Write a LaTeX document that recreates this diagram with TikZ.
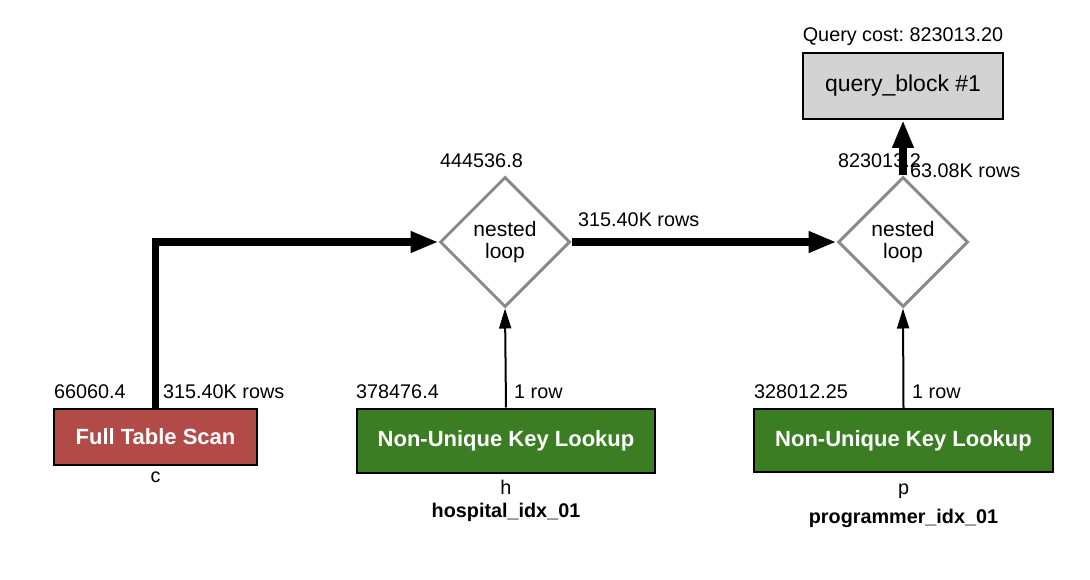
\documentclass[tikz,border=0pt]{standalone}
\usepackage{fontspec}
\setmainfont{Liberation Sans}
\frenchspacing
\usetikzlibrary{shapes.geometric,arrows.meta}
\definecolor{ftsred}{HTML}{B24A47}
\definecolor{nkgreen}{HTML}{3A7D22}
\definecolor{qbgray}{HTML}{D3D3D3}
\definecolor{dgray}{HTML}{8A8A8A}
\tikzset{
  lbl/.style={inner sep=0pt, font=\fontsize{19.8}{23}\selectfont},
  blbl/.style={inner sep=0pt, font=\fontsize{19.8}{23}\selectfont\bfseries},
  opbox/.style={draw=black, line width=2pt, inner sep=0pt, text=white, font=\fontsize{22}{26}\selectfont\bfseries},
  nloop/.style={diamond, aspect=1, draw=dgray, line width=3pt, fill=white, inner sep=0pt,
    minimum width=130pt, minimum height=130pt, align=center, font=\fontsize{21}{22}\selectfont},
  thickarr/.style={line width=7.5pt, -{Triangle[length=28pt,width=20pt]}},
  thinarr/.style={line width=2pt, -{Triangle[length=20pt,width=12pt]}}
}
\begin{document}
\begin{tikzpicture}[x=1pt,y=-1pt]
\useasboundingbox[fill=white] (0,0) rectangle (1090,580);

% query block
\node[draw=black, line width=2pt, fill=qbgray, minimum width=200pt, minimum height=66pt, inner sep=0pt,
  font=\fontsize{23}{27}\selectfont] (qb) at (903,86) {query\_block \#1};
\node[lbl, anchor=base] (qcost) at (903,42) {Query cost: 823013.20};

% nested loops
\node[nloop] (nl1) at (505,242) {nested\\loop};
\node[nloop] (nl2) at (903,242) {nested\\loop};
\node[lbl, anchor=base west] (c1) at (440,168) {444536.8};
\node[lbl, anchor=base west] (c2) at (838,168) {823013.2};

% operations
\node[opbox, fill=ftsred, minimum width=203pt, minimum height=56pt] (fts) at (155.5,437) {Full Table Scan};
\node[opbox, fill=nkgreen, minimum width=298pt, minimum height=64pt] (nk1) at (506,440.5) {Non-Unique Key Lookup};
\node[opbox, fill=nkgreen, minimum width=299pt, minimum height=63pt] (nk2) at (903.5,440.5) {Non-Unique Key Lookup};

% connectors
\draw[thickarr, line join=miter] (fts.north) |- (nl1.west);
\draw[thickarr] (nl1.east) -- (nl2.west);
\draw[thickarr] (nl2.north) -- (qb.south);
\draw[thinarr] (nk1.north) -- (nl1.south);
\draw[thinarr] (nk2.north) -- (nl2.south);

% labels
\node[lbl, anchor=base west] (r3) at (910,178) {63.08K rows};
\node[lbl, anchor=base west] (r2) at (578,227) {315.40K rows};
\node[lbl, anchor=base west] (k1) at (54,398) {66060.4};
\node[lbl, anchor=base west] (r1) at (163,398) {315.40K rows};
\node[lbl, anchor=base west] (k2) at (356,398) {378476.4};
\node[lbl, anchor=base west] (r4) at (514,398) {1 row};
\node[lbl, anchor=base west] (k3) at (754,398) {328012.25};
\node[lbl, anchor=base west] (r5) at (912,398) {1 row};
\node[lbl, anchor=base] (tc) at (155.5,482) {c};
\node[lbl, anchor=base] (th) at (506,494) {h};
\node[blbl, anchor=base] (ih) at (506,517) {hospital\_idx\_01};
\node[lbl, anchor=base] (tp) at (903.5,494) {p};
\node[blbl, anchor=base] (ip) at (903.5,523) {programmer\_idx\_01};
\end{tikzpicture}
\end{document}
